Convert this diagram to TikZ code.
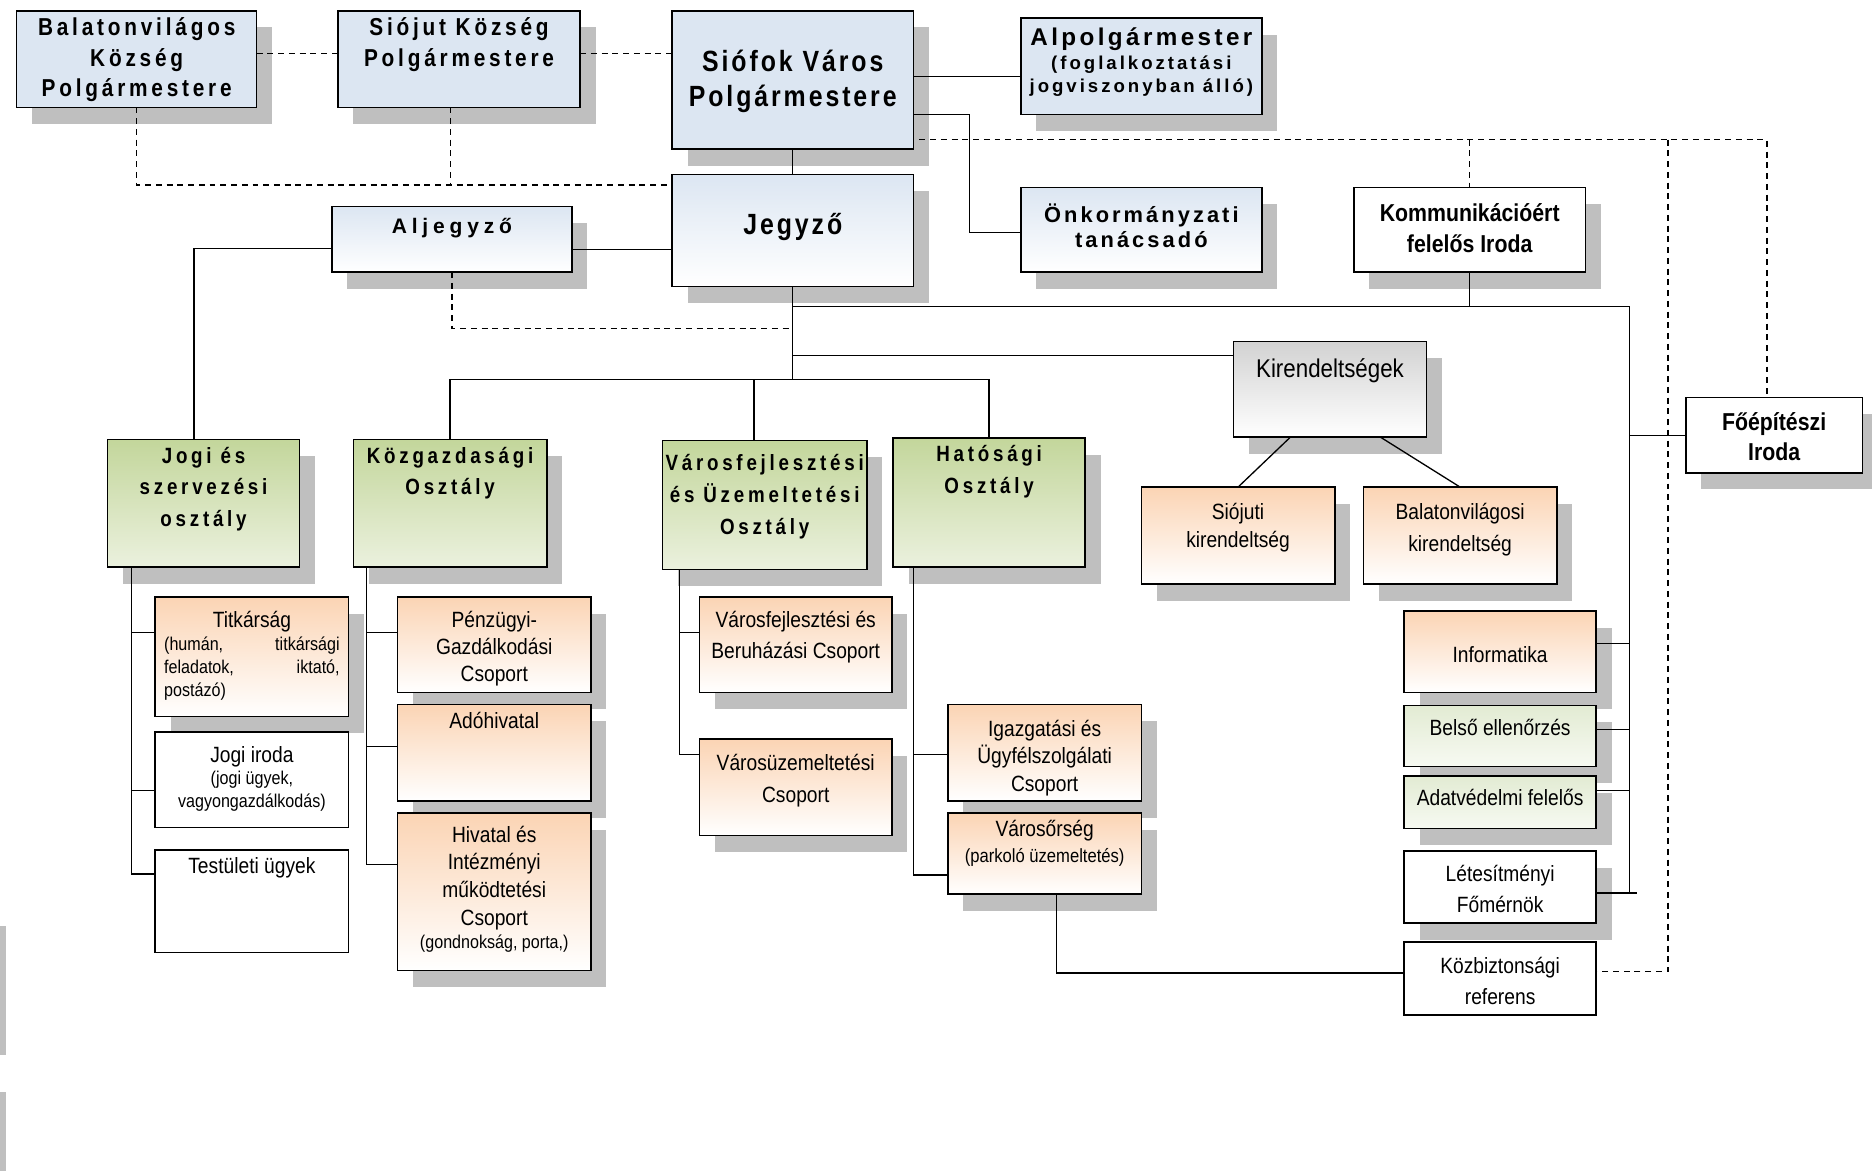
\documentclass[tikz,border=0pt]{standalone}
\usepackage{fontspec}
\setmainfont{Liberation Sans}[FakeStretch=0.87]
\newfontfamily\fBal{Liberation Sans}[FakeStretch=0.85,LetterSpace=15.5]
\newfontfamily\fSf{Liberation Sans}[FakeStretch=0.85,LetterSpace=10]
\newfontfamily\fAlp{Liberation Sans}[LetterSpace=14]
\newfontfamily\fAlpS{Liberation Sans}[LetterSpace=16]
\newfontfamily\fOnk{Liberation Sans}[LetterSpace=14]
\newfontfamily\fAlj{Liberation Sans}[LetterSpace=23]
\newfontfamily\fGr{Liberation Sans}[FakeStretch=0.85,LetterSpace=17]
\usetikzlibrary{calc}
\definecolor{shg}{HTML}{BFBFBF}
\definecolor{blueA}{HTML}{DCE6F2}
\definecolor{greenA}{HTML}{C3D69B}
\definecolor{greenB}{HTML}{EBF1DE}
\definecolor{orA}{HTML}{FBD4B4}
\definecolor{lgA}{HTML}{E2EBD3}
\definecolor{lgB}{HTML}{F7FAF2}
\definecolor{grayA}{HTML}{D2D2D2}
\pgfdeclarelayer{bg}
\pgfsetlayers{bg,main}
\tikzset{
  bx/.style={draw=black, line width=1.3pt, inner sep=0pt, outer sep=0pt, anchor=north west},
  fblue/.style={fill=blueA},
  gblue/.style={top color=blueA, bottom color=white},
  ggreen/.style={top color=greenA, bottom color=greenB},
  gor/.style={top color=orA, bottom color=white},
  glg/.style={top color=lgA, bottom color=lgB},
  ggray/.style={top color=grayA, bottom color=white},
  fwhite/.style={fill=white},
  tx/.style={anchor=base, inner sep=0pt, outer sep=0pt},
  ln/.style={line width=1.1pt},
  dsh/.style={line width=1.1pt, dash pattern=on 5pt off 4pt},
}
\newcommand\mkbx[6]{\node[bx,#2,minimum width={(#5-#3)*1pt},minimum height={(#6-#4)*1pt}] (#1) at (#3,#4) {};}
\newcommand\mktx[4]{\node[tx] (#1-t) at (#1.north |- 0,#2) {\parbox[t]{#3pt}{\centering #4}};}
\newcommand\hdf[3]{#1\bfseries\fontsize{#2}{#3}\selectfont}
\newcommand\rgf[2]{\fontsize{#1}{#2}\selectfont}
\begin{document}
\begin{tikzpicture}[x=1pt,y=-1pt]
\useasboundingbox (0,0) rectangle (1568,981);
% boxes
\mkbx{bal}{fblue}{14}{9}{215}{90}
\mkbx{sio}{fblue}{283}{9}{486}{90}
\mkbx{sf}{fblue}{563}{9}{765}{125}
\mkbx{alp}{fblue}{855}{15}{1057}{96}
\mkbx{onk}{gblue}{855}{157}{1057}{228}
\mkbx{jegy}{gblue}{563}{146}{765}{240}
\mkbx{alj}{gblue}{278}{173}{479}{228}
\mkbx{komm}{fwhite}{1134}{157}{1328}{228}
\mkbx{foe}{fwhite}{1412}{333}{1560}{396}
\mkbx{kir}{ggray}{1033}{286}{1195}{366}
\mkbx{sioj}{gor}{956}{408}{1118}{489}
\mkbx{balk}{gor}{1142}{408}{1304}{489}
\mkbx{jogi}{ggreen}{90}{368}{251}{475}
\mkbx{kozg}{ggreen}{296}{368}{458}{475}
\mkbx{varf}{ggreen}{555}{369}{726}{477}
\mkbx{hat}{ggreen}{748}{367}{909}{475}
\mkbx{titk}{gor}{130}{500}{292}{600}
\mkbx{jogir}{fwhite}{130}{613}{292}{693}
\mkbx{test}{fwhite}{130}{712}{292}{798}
\mkbx{penz}{gor}{333}{500}{495}{580}
\mkbx{ado}{gor}{333}{590}{495}{671}
\mkbx{hiv}{gor}{333}{681}{495}{813}
\mkbx{vfb}{gor}{586}{500}{747}{580}
\mkbx{vu}{gor}{586}{619}{747}{700}
\mkbx{igaz}{gor}{794}{590}{956}{671}
\mkbx{vor}{gor}{794}{681}{956}{749}
\mkbx{info}{gor}{1176}{512}{1337}{580}
\mkbx{bels}{glg}{1176}{591}{1337}{642}
\mkbx{adat}{glg}{1176}{650}{1337}{694}
\mkbx{let}{fwhite}{1176}{713}{1337}{773}
\mkbx{kozb}{fwhite}{1176}{789}{1337}{850}
% shadows
\begin{pgfonlayer}{bg}
\foreach \n in {bal,sio,sf,alp,onk,jegy,alj,komm,foe,kir,sioj,balk,jogi,kozg,varf,hat,titk,penz,ado,hiv,vfb,vu,igaz,vor,info,bels,adat,let}
  \fill[shg] ($(\n.north west)+(13,14)$) rectangle ($(\n.south east)+(13,14)$);
\fill[shg] (0,775.6) rectangle (5,883.6);
\fill[shg] (0,914.6) rectangle (5,981);
\end{pgfonlayer}
% texts
\mktx{bal}{30}{201}{\hdf\fBal{20.5}{25.6}Balatonvilágos\\Község\\Polgármestere}
\mktx{sio}{30}{203}{\hdf\fBal{20.5}{25.6}Siójut Község\\Polgármestere}
\mktx{sf}{60}{202}{\hdf\fSf{24.5}{29.3}Siófok Város\\Polgármestere}
\mktx{alp}{38.3}{202}{\hdf\fAlp{20.3}{21}Alpolgármester\par\hdf\fAlpS{15.6}{19.5}(foglalkoztatási\\jogviszonyban álló)}
\mktx{onk}{186.5}{202}{\hdf\fOnk{18.3}{20.5}Önkormányzati\\tanácsadó}
\mktx{jegy}{196.8}{202}{\hdf\fSf{24.5}{29}Jegyző}
\mktx{alj}{195.4}{201}{\hdf\fAlj{17.6}{22}Aljegyző}
\mktx{komm}{185.7}{194}{\bfseries\rgf{20.5}{26}Kommunikációért\\felelős Iroda}
\mktx{foe}{360.5}{148}{\bfseries\rgf{20.5}{25}Főépítészi\\Iroda}
\mktx{kir}{316.6}{162}{\rgf{21.5}{26}Kirendeltségek}
\mktx{sioj}{435.5}{162}{\rgf{18.5}{23}Siójuti\\kirendeltség}
\mktx{balk}{435.5}{162}{\rgf{18.5}{26.5}Balatonvilágosi\\kirendeltség}
\mktx{jogi}{388.3}{161}{\hdf\fGr{18.5}{26.3}Jogi és\\szervezési\\osztály}
\mktx{kozg}{388.3}{162}{\hdf\fGr{18.5}{26.3}Közgazdasági\\Osztály}
\mktx{varf}{394.5}{171}{\hdf\fGr{18.5}{26.5}Városfejlesztési\\és Üzemeltetési\\Osztály}
\mktx{hat}{386.8}{161}{\hdf\fGr{18.5}{26.9}Hatósági\\Osztály}
\mktx{titk}{526}{162}{\rgf{18.5}{19}Titkárság\par\rgf{15.5}{19}\parbox[t]{147pt}{(humán,\hfill titkársági\\feladatok,\hfill iktató,\\postázó)}}
\mktx{jogir}{638.4}{162}{\rgf{18.5}{19}Jogi iroda\par\rgf{15.5}{19}(jogi ügyek,\\vagyongazdálkodás)}
\mktx{test}{731.7}{162}{\rgf{18.5}{22}Testületi ügyek}
\mktx{penz}{525.7}{162}{\rgf{18.5}{22.5}Pénzügyi-\\Gazdálkodási\\Csoport}
\mktx{ado}{610.6}{162}{\rgf{18.5}{22.5}Adóhivatal}
\mktx{hiv}{705.3}{162}{\rgf{18.5}{23.2}Hivatal és\\Intézményi\\működtetési\\Csoport\par\rgf{15.5}{19.7}(gondnokság, porta,)}
\mktx{vfb}{525.7}{161}{\rgf{18.5}{26}Városfejlesztési és\\Beruházási Csoport}
\mktx{vu}{645.5}{161}{\rgf{18.5}{26.3}Városüzemeltetési\\Csoport}
\mktx{igaz}{616.5}{162}{\rgf{18.5}{23.2}Igazgatási és\\Ügyfélszolgálati\\Csoport}
\mktx{vor}{700.3}{162}{\rgf{18.5}{22.4}Városőrség\par\rgf{16}{22.4}(parkoló üzemeltetés)}
\mktx{info}{554.5}{161}{\rgf{18.5}{22}Informatika}
\mktx{bels}{616}{161}{\rgf{18.5}{22}Belső ellenőrzés}
\mktx{adat}{674.5}{161}{\rgf{18.5}{22}Adatvédelmi felelős}
\mktx{let}{738.5}{161}{\rgf{18.5}{26}Létesítményi\\Főmérnök}
\mktx{kozb}{815.2}{161}{\rgf{18.5}{26}Közbiztonsági\\referens}
% dashed connectors
\draw[dsh] (bal.east |- 0,45) -- (sio.west |- 0,45);
\draw[dsh] (sio.east |- 0,45) -- (sf.west |- 0,45);
\draw[dsh] (bal.south) |- (jegy.west |- 0,155);
\coordinate (siod) at ([xshift=-7pt]sio.south);
\draw[dsh] (siod) -- (siod |- 0,155);
\coordinate (sfd) at ([xshift=5pt]sf.east);
\coordinate (foed) at ([xshift=-6pt]foe.north);
\draw[dsh] (sfd |- 0,117) -| (foed);
\draw[dsh] (komm.north |- 0,117) -- (komm.north);
\coordinate (dtop) at (1397,117);
\draw[dsh] (dtop) |- (kozb.east |- 0,814);
\draw[dsh] (alj.south) |- (jegy.south |- 0,275);
% solid connectors
\draw[ln] (sf.south) -- (jegy.north);
\draw[ln] (sf.east |- 0,64) -- (alp.west |- 0,64);
\coordinate (tc) at (812,96);
\draw[ln] (sf.east |- tc) -- (tc) |- (onk.west |- 0,195);
\coordinate (jogin) at ([xshift=-8pt]jogi.north);
\draw[ln] (alj.west |- 0,208) -| (jogin);
\draw[ln] (alj.east |- 0,209) -- (jegy.west |- 0,209);
\draw[ln] (jegy.south) -- (jegy.south |- 0,318);
\coordinate (busT) at (1365,257);
\coordinate (busB) at (1365,748);
\draw[ln] (jegy.south |- busT) -- (busT) -- (busB) -- ++(6,0);
\draw[ln] (komm.south) -- (komm.south |- busT);
\draw[ln] (jegy.south |- 0,298) -- (kir.west |- 0,298);
\draw[ln] (kozg.north) |- (hat.north |- 0,318) -- (hat.north);
\coordinate (varfn) at ([xshift=-9pt]varf.north);
\draw[ln] (varfn) -- (varfn |- 0,318);
\draw[ln] (foe.west) -- (foe.west -| busT);
\draw[ln] (info.east |- 0,539) -- (busT |- 0,539);
\draw[ln] (bels.east |- 0,611) -- (busT |- 0,611);
\draw[ln] (adat.east |- 0,662) -- (busT |- 0,662);
\draw[ln] (let.east |- busB) -- (busB);
\draw[ln] ($(kir.south west)+(48,0)$) -- (sioj.north);
\draw[ln] ($(kir.south west)+(123,0)$) -- (balk.north);
\coordinate (jv) at ([xshift=20pt]jogi.south west);
\coordinate (kv) at ([xshift=11pt]kozg.south west);
\coordinate (vv) at ([xshift=14pt]varf.south west);
\coordinate (hv) at ([xshift=17pt]hat.south west);
\draw[ln] (jv) |- (test.west |- 0,732);
\draw[ln] (jv |- 0,530) -- (titk.west |- 0,530);
\draw[ln] (jv |- 0,662) -- (jogir.west |- 0,662);
\draw[ln] (kv) |- (hiv.west |- 0,724);
\draw[ln] (kv |- 0,530) -- (penz.west |- 0,530);
\draw[ln] (kv |- 0,625) -- (ado.west |- 0,625);
\draw[ln] (vv) |- (vu.west |- 0,632);
\draw[ln] (vv |- 0,530) -- (vfb.west |- 0,530);
\draw[ln] (hv) |- (vor.west |- 0,733);
\draw[ln] (hv |- 0,632) -- (igaz.west |- 0,632);
\coordinate (vord) at ([xshift=10pt]vor.south);
\draw[ln] (vord) |- (kozb.west |- 0,815);
\end{tikzpicture}
\end{document}
